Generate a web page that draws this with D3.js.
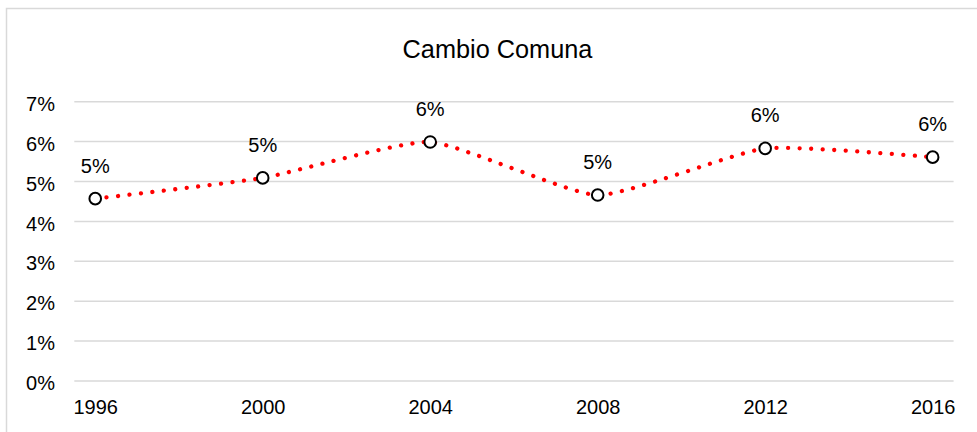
<!DOCTYPE html>
<html><head><meta charset="utf-8">
<script src="https://cdn.jsdelivr.net/npm/d3@7"></script>
<style>html,body{margin:0;padding:0;background:#fff;}svg{display:block;}</style>
</head><body>
<svg id="c" width="977" height="432"></svg>
<script>
const years = [1996, 2000, 2004, 2008, 2012, 2016];
const values = [0.0457, 0.0509, 0.0599, 0.0466, 0.0583, 0.0561];
const yTicks = [0, 0.01, 0.02, 0.03, 0.04, 0.05, 0.06, 0.07];
const title = "Cambio Comuna";

const svg = d3.select("#c");
const font = "'Liberation Sans', Arial, sans-serif";
svg.append("rect").attr("width",977).attr("height",432).attr("fill","#fff");
svg.append("rect").attr("x",6.5).attr("y",8.5).attr("width",1000).attr("height",500)
  .attr("fill","none").attr("stroke","#d9d9d9").attr("stroke-width",1.5);

const x = d3.scaleLinear().domain([1995.5, 2016.5]).range([74.3, 953.6]);
const y = d3.scaleLinear().domain([0, 0.07]).range([381, 101.7]);

svg.append("text").attr("x",497.5).attr("y",58).attr("text-anchor","middle")
  .attr("font-family",font).attr("font-size",25.3).attr("fill","#000").text(title);

// grid
svg.append("g").selectAll("line").data(yTicks).join("line")
  .attr("x1",x.range()[0]).attr("x2",x.range()[1])
  .attr("y1",d=>y(d)).attr("y2",d=>y(d))
  .attr("stroke","#d9d9d9").attr("stroke-width",1.5);

// y axis
const yAxis = d3.axisLeft(y).tickValues(yTicks).tickFormat(d3.format(".0%")).tickSize(0).tickPadding(0);
const gy = svg.append("g").attr("transform","translate(55,0)").call(yAxis);
gy.select(".domain").remove();
gy.selectAll("text").attr("font-family",font).attr("font-size",20).attr("fill","#000").attr("dy","0.43em");

// x axis
const xAxis = d3.axisBottom(x).tickValues(years).tickFormat(d3.format("d")).tickSize(0).tickPadding(0);
const gx = svg.append("g").attr("transform","translate(0,414)").call(xAxis);
gx.select(".domain").remove();
gx.selectAll("text").attr("font-family",font).attr("font-size",20).attr("fill","#000").attr("dy","0em");

const data = years.map((yr,i)=>({yr, v: values[i]}));
const line = d3.line().x(d=>x(d.yr)).y(d=>y(d.v)).curve(d3.curveCardinal.tension(0.5));
svg.append("path").datum(data).attr("d",line).attr("fill","none")
  .attr("stroke","#ff0000").attr("stroke-width",4.3).attr("stroke-linecap","round")
  .attr("stroke-dasharray","0.01 11.5");

svg.append("g").selectAll("circle").data(data).join("circle")
  .attr("cx",d=>x(d.yr)).attr("cy",d=>y(d.v)).attr("r",5.8)
  .attr("fill","#fff").attr("stroke","#000").attr("stroke-width",2);

svg.append("g").selectAll("text").data(data).join("text")
  .attr("x",d=>x(d.yr)).attr("y",d=>y(d.v)-26).attr("text-anchor","middle")
  .attr("font-family",font).attr("font-size",20).attr("fill","#000")
  .text(d=>d3.format(".0%")(d.v));
</script>
</body></html>
